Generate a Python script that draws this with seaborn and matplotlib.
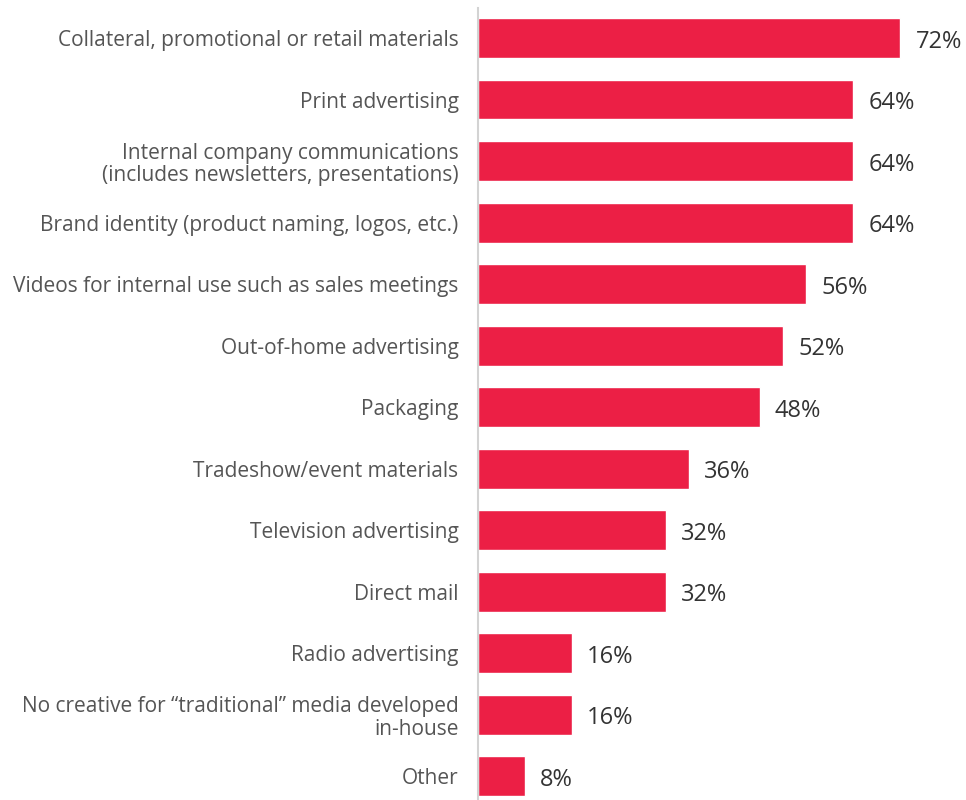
import matplotlib
matplotlib.use("Agg")
import matplotlib.pyplot as plt
import seaborn as sns
import pandas as pd

categories = [
    "Collateral, promotional or retail materials",
    "Print advertising",
    "Internal company communications\n(includes newsletters, presentations)",
    "Brand identity (product naming, logos, etc.)",
    "Videos for internal use such as sales meetings",
    "Out-of-home advertising",
    "Packaging",
    "Tradeshow/event materials",
    "Television advertising",
    "Direct mail",
    "Radio advertising",
    "No creative for \u201ctraditional\u201d media developed\nin-house",
    "Other",
]
values = [72, 64, 64, 64, 56, 52, 48, 36, 32, 32, 16, 16, 8]

df = pd.DataFrame({"category": categories, "value": values})

sns.set_theme(style="white")
plt.rcParams["font.family"] = ["Open Sans", "DejaVu Sans"]

fig = plt.figure(figsize=(9.66, 8.0), dpi=100)
ax = fig.add_axes([478 / 966, 0.0, 1 - 478 / 966, 792 / 800])

sns.barplot(data=df, x="value", y="category", color="#EC1F45",
            saturation=1, width=0.65, ax=ax)

for i, v in enumerate(values):
    ax.text(v + 2.6, i + 0.06, f"{v}%", va="center", ha="left",
            fontsize=17, color="#333333")

ax.set_xlim(0, 83.2)
ax.set_ylim(12.39, -0.488)
ax.set_xlabel("")
ax.set_ylabel("")
ax.set_xticks([])
ax.tick_params(axis="y", length=0, pad=14, labelsize=15, labelcolor="#555555")
for lbl in ax.get_yticklabels():
    lbl.set_multialignment("right")
    lbl.set_linespacing(1.1)
for side in ["top", "right", "bottom"]:
    ax.spines[side].set_visible(False)
ax.spines["left"].set_color("#d3d3d3")
ax.spines["left"].set_linewidth(1.5)

fig.savefig("out.png", dpi=100)
